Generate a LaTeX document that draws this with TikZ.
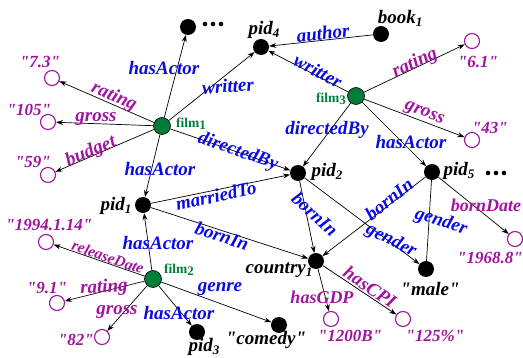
\documentclass[tikz,border=0pt]{standalone}
\usepackage{fontspec}
\setmainfont{Liberation Serif}[Ligatures=TeXOff]
\usetikzlibrary{arrows.meta}
\definecolor{relblue}{RGB}{10,10,230}
\definecolor{attpurple}{RGB}{160,20,160}
\definecolor{filmgreen}{RGB}{0,125,55}
\newcommand\sbs[1]{\raisebox{-0.35ex}{\fontsize{13}{13}\selectfont#1}}
\tikzset{
  ent/.style={circle,fill=black,minimum size=16pt,inner sep=0pt},
  lit/.style={circle,draw=attpurple,line width=1.1pt,fill=white,minimum size=15pt,inner sep=0pt},
  film/.style={circle,fill=filmgreen,draw=black,line width=0.6pt,minimum size=17pt,inner sep=0pt},
  txt/.style={inner sep=1pt,font=\fontsize{19}{19}\selectfont\bfseries\itshape},
  rel/.style={txt,text=relblue},
  att/.style={txt,text=attpurple},
  val/.style={inner sep=1pt,text=attpurple,font=\fontsize{17}{17}\selectfont\bfseries\itshape},
  lab/.style={txt,text=black},
  flab/.style={inner sep=1pt,text=filmgreen,font=\fontsize{13.5}{13.5}\selectfont\bfseries},
  edge/.style={-{Stealth[length=7pt,width=5pt]},line width=0.7pt},
  plain/.style={line width=0.7pt},
}
\begin{document}
\begin{tikzpicture}[x=1pt,y=-1pt]
\useasboundingbox (0,0) rectangle (523,358);

% entities
\node[ent] (top) at (188,27) {};
\node[ent] (pid4) at (261,47) {};
\node[ent] (book1) at (381,34) {};
\node[ent] (pid2) at (298,173) {};
\node[ent] (pid5) at (432,172) {};
\node[ent] (pid1) at (143,205) {};
\node[ent] (pid3) at (197,332) {};
\node[ent] (comedy) at (279,325) {};
\node[ent] (country1) at (316,261) {};
\node[ent] (male) at (426,269) {};

% films
\node[film] (film1) at (162,126) {};
\node[film] (film2) at (153,279) {};
\node[film] (film3) at (356,96) {};

% literal values
\node[lit] (v61) at (472,41) {};
\node[lit] (v43) at (472,140) {};
\node[lit] (v73) at (52,78) {};
\node[lit] (v105) at (48,122) {};
\node[lit] (v59) at (48,175) {};
\node[lit] (vdate) at (46,242) {};
\node[lit] (v91) at (57,303) {};
\node[lit] (v82) at (102,337) {};
\node[lit] (vbirth) at (515,239) {};
\node[lit] (vgdp) at (331,319) {};
\node[lit] (vcpi) at (403,319) {};

% node captions
\node[lab] (tpid4) at (264,30) {pid\sbs{4}};
\node[lab] (tbook1) at (400,18) {book\sbs{1}};
\node[lab] (tpid2) at (327,172) {pid\sbs{2}};
\node[lab] (tpid5) at (459,171) {pid\sbs{5}};
\node[lab] (tpid1) at (116,206) {pid\sbs{1}};
\node[lab] (tpid3) at (204,347) {pid\sbs{3}};
\node[lab] (tcountry1) at (279,270) {country\sbs{1}};
\node[lab] (tmale) at (430,289) {"male"};
\node[lab] (tcomedy) at (266,340) {"comedy"};
\node[flab] (tfilm1) at (191,124) {film\sbs{1}};
\node[flab] (tfilm2) at (179,270) {film\sbs{2}};
\node[flab] (tfilm3) at (331,99) {film\sbs{3}};
\node[val] (t61) at (478,62) {"6.1"};
\node[val] (t43) at (490,128) {"43"};
\node[val] (t73) at (40,62) {"7.3"};
\node[val] (t105) at (29,110) {"105"};
\node[val] (t59) at (33,162) {"59"};
\node[val] (tdate) at (49,225) {"1994.1.14"};
\node[val] (t91) at (47,288) {"9.1"};
\node[val] (t82) at (76,340) {"82"};
\node[val] (tbirth) at (490,258) {"1968.8"};
\node[val] (tgdp) at (350,336) {"1200B"};
\node[val] (tcpi) at (435,336) {"125\%"};

% trailing dots
\foreach \x in {205,213,221} \fill (\x,24) circle (2.3pt);
\foreach \x in {488,496,504} \fill (\x,173) circle (2.3pt);

% film1
\draw[edge] (film1) -- (top);
\draw[edge] (film1) -- (pid4);
\draw[edge] (film1) -- (v73);
\draw[edge] (film1) -- (v105);
\draw[edge] (film1) -- (v59);
\draw[edge] (film1) -- (pid1);
\draw[edge] (film1) -- (pid2);
\node[rel] (e1) at (164,68) {hasActor};
\node[rel] (e2) at (228,86) [rotate=4] {writter};
\node[att] (e3) at (114,97) [rotate=-24] {rating};
\node[att] (e4) at (96,119) {gross};
\node[att] (e5) at (91,152) [rotate=23] {budget};
\node[rel] (e6) at (160,169) {hasActor};
\node[rel] (e7) at (238,152) [rotate=-19] {directedBy};

% book1 and film3
\draw[edge] (book1) -- (pid4);
\draw[edge] (film3) -- (pid4);
\draw[edge] (film3) -- (v61);
\draw[edge] (film3) -- (v43);
\draw[edge] (film3) -- (pid2);
\draw[edge] (film3) -- (pid5);
\node[rel] (e8) at (323,33) [rotate=6] {author};
\node[rel] (e9) at (318,71) [rotate=-28] {writter};
\node[att] (e10) at (415,63) [rotate=25] {rating};
\node[att] (e11) at (424,114) [rotate=-21] {gross};
\node[rel] (e12) at (327,130) {directedBy};
\node[rel] (e13) at (411,142) {hasActor};

% persons
\draw[edge] (pid1) -- (pid2);
\draw[edge] (pid1) -- (country1);
\draw[edge] (pid2) -- (country1);
\draw[edge] (pid2) -- (male);
\draw[edge] (pid5) -- (country1);
\draw[plain] (pid5) -- (male);
\draw[edge] (pid5) -- (vbirth);
\node[rel] (e14) at (216,196) [rotate=12] {marriedTo};
\node[rel] (e15) at (222,236) [rotate=-18] {bornIn};
\node[rel] (e16) at (315,214) [rotate=-42] {bornIn};
\node[rel] (e17) at (389,199) [rotate=38] {bornIn};
\node[rel] (e18) at (391,241) [rotate=-27] {gender};
\node[rel] (e19) at (441,222) [rotate=-18] {gender};
\node[att,font=\fontsize{18}{18}\selectfont\bfseries\itshape] (e20) at (486,205) {bornDate};

% country1
\draw[edge] (country1) -- (vgdp);
\draw[edge] (country1) -- (vcpi);
\node[att,font=\fontsize{18}{18}\selectfont\bfseries\itshape] (e21) at (322,297) {hasGDP};
\node[att] (e22) at (370,287) [rotate=-34] {hasCPI};

% film2
\draw[edge] (film2) -- (pid1);
\draw[edge] (film2) -- (vdate);
\draw[edge] (film2) -- (v91);
\draw[edge] (film2) -- (v82);
\draw[edge] (film2) -- (pid3);
\draw[edge] (film2) -- (comedy);
\node[rel] (e23) at (158,243) {hasActor};
\node[att,font=\fontsize{15.5}{15.5}\selectfont\bfseries\itshape] (e24) at (108,257) [rotate=-19] {releaseDate};
\node[att] (e25) at (104,288) [rotate=3] {rating};
\node[att] (e26) at (117,312) {gross};
\node[rel] (e27) at (179,313) {hasActor};
\node[rel] (e28) at (220,289) {genre};
\end{tikzpicture}
\end{document}
